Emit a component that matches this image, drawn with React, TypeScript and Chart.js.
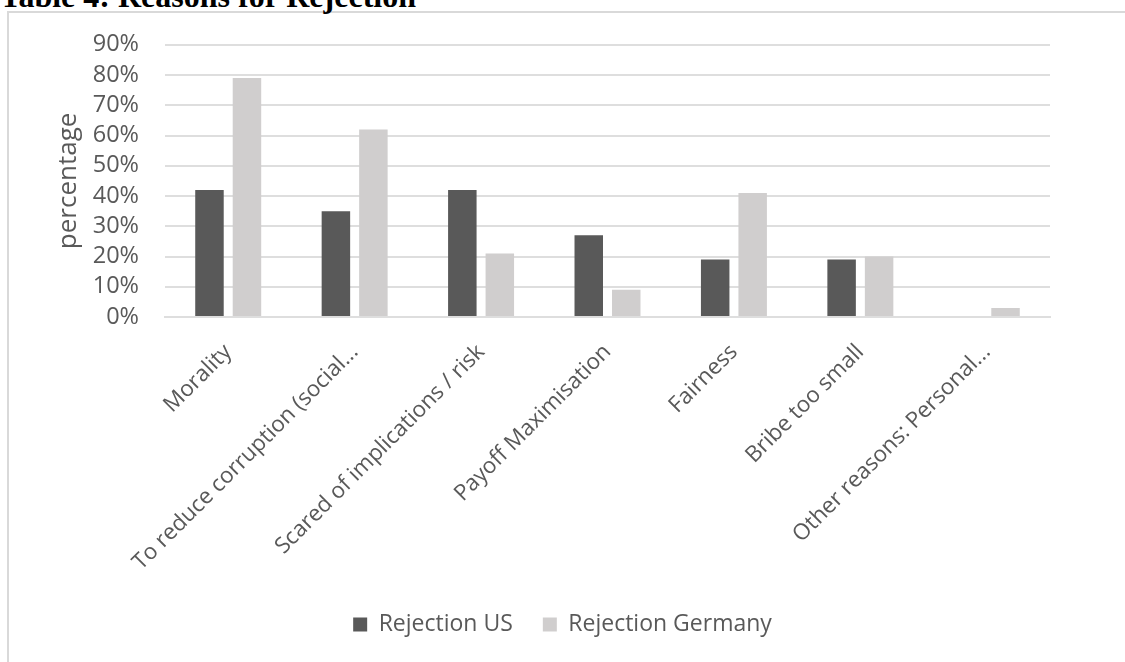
import React, { useEffect, useRef } from "react";
import { Chart, registerables } from "chart.js";

Chart.register(...registerables);

// Reasons given for rejecting the bribe, in percent of respondents
const categories = [
  "Morality",
  "To reduce corruption (social...",
  "Scared of implications / risk",
  "Payoff Maximisation",
  "Fairness",
  "Bribe too small",
  "Other reasons: Personal...",
];
const rejectionUS = [42, 35, 42, 27, 19, 19, 0];
const rejectionGermany = [79, 62, 21, 9, 41, 20, 3];
const seriesNames = ["Rejection US", "Rejection Germany"];
const yAxisTitle = "percentage";
const heading = "Table 4: Reasons for Rejection";

const W = 1125;
const H = 662;
const FONT = "'Open Sans', 'DejaVu Sans', sans-serif";
const TEXT = "#595959";
const GRID = "#dedede";

export default function App() {
  const canvasRef = useRef<HTMLCanvasElement | null>(null);

  useEffect(() => {
    document.body.style.margin = "0";
    const canvas = canvasRef.current;
    if (!canvas) return;
    const chart = new Chart(canvas, {
      type: "bar",
      data: {
        labels: categories,
        datasets: [
          {
            label: seriesNames[0],
            data: rejectionUS,
            backgroundColor: "#595959",
            borderWidth: 0,
            categoryPercentage: 0.593,
            barPercentage: 0.76,
          },
          {
            label: seriesNames[1],
            data: rejectionGermany,
            backgroundColor: "#d0cece",
            borderWidth: 0,
            categoryPercentage: 0.593,
            barPercentage: 0.76,
          },
        ],
      },
      options: {
        responsive: false,
        animation: false,
        devicePixelRatio: 1,
        layout: {
          padding: { top: 44.75, right: 0, left: 0, bottom: 16 },
        },
        plugins: {
          title: { display: false },
          tooltip: { enabled: false },
          legend: {
            position: "bottom",
            align: "center",
            labels: {
              boxWidth: 14,
              boxHeight: 14,
              padding: 30,
              color: TEXT,
              font: { family: FONT, size: 23 },
            },
          },
        },
        scales: {
          x: {
            grid: { display: false, drawTicks: false },
            border: { display: true, color: GRID, width: 2 },
            ticks: {
              color: TEXT,
              font: { family: FONT, size: 22.3 },
              minRotation: 45,
              maxRotation: 45,
              autoSkip: false,
              padding: 22,
            },
            afterFit: (scale: any) => {
              scale.height = 266;
            },
          },
          y: {
            min: 0,
            max: 90,
            grid: { color: GRID, lineWidth: 2, drawTicks: false },
            border: { display: false },
            ticks: {
              stepSize: 10,
              autoSkip: false,
              color: TEXT,
              padding: 26,
              font: { family: FONT, size: 23.5 },
              callback: (v: any) => `${v}%`,
            },
            title: {
              display: true,
              text: yAxisTitle,
              color: TEXT,
              font: { family: FONT, size: 26 },
              padding: { top: 53, bottom: 0 },
            },
            afterFit: (scale: any) => {
              scale.width = 165;
            },
          },
          // empty right-hand margin so the legend centres on the full width
          margin: {
            position: "right",
            display: true,
            min: 0,
            max: 1,
            grid: { display: false, drawTicks: false },
            border: { display: false },
            ticks: { display: false },
            afterFit: (scale: any) => {
              scale.width = 75;
            },
          },
        },
      },
    });
    return () => chart.destroy();
  }, []);

  return (
    <div
      style={{
        position: "fixed",
        left: 0,
        top: 0,
        width: W,
        height: H,
        overflow: "hidden",
        background: "#ffffff",
      }}
    >
      <div
        style={{
          position: "absolute",
          left: 7,
          top: 11,
          width: W,
          height: H,
          border: "2px solid #d9d9d9",
          boxSizing: "border-box",
        }}
      />
      <div
        style={{
          position: "absolute",
          left: 0,
          top: -20,
          whiteSpace: "nowrap",
          font: "bold 32px 'Liberation Serif', 'Times New Roman', serif",
          lineHeight: "32px",
          color: "#000",
        }}
      >
        {heading}
      </div>
      <canvas
        ref={canvasRef}
        width={W}
        height={H}
        style={{ position: "absolute", left: 0, top: 0, width: W, height: H }}
      />
    </div>
  );
}
